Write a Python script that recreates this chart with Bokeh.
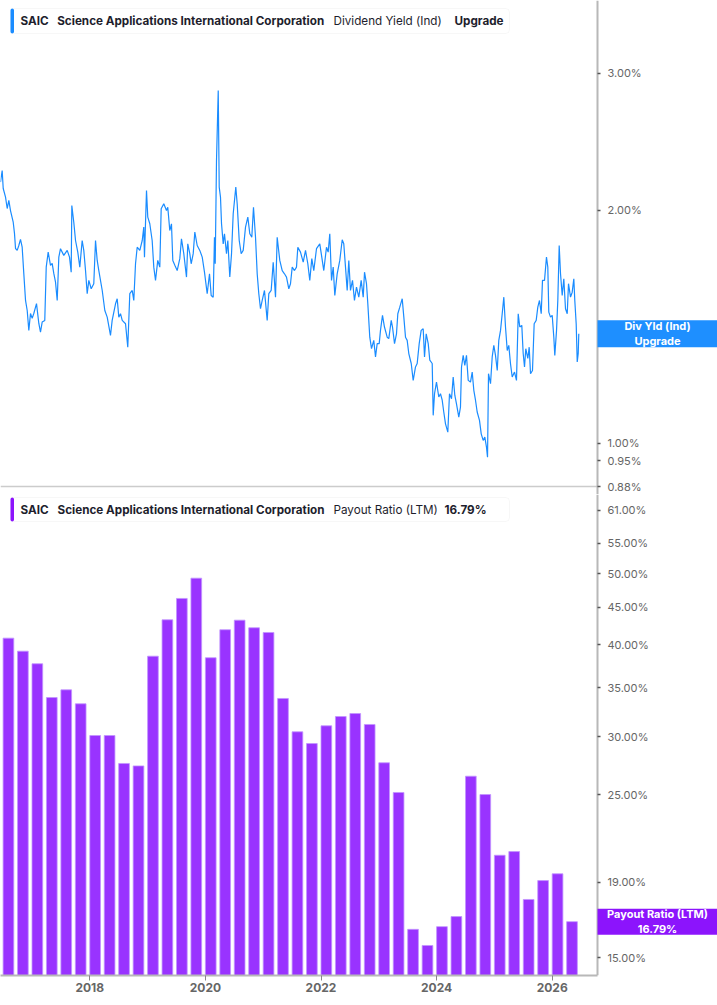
import math
from bokeh.plotting import figure
from bokeh.models import Range1d, FixedTicker, PrintfTickFormatter, Label, BoxAnnotation
from bokeh.layouts import column
from bokeh.embed import file_html
from bokeh.resources import INLINE

# ---------------- data ----------------
ticker_symbol = "SAIC"
company = "Science Applications International Corporation"

yield_dates = [
    2016.455, 2016.484, 2016.502, 2016.542, 2016.571, 2016.599, 2016.628, 2016.675, 2016.697, 2016.715,
    2016.744, 2016.772, 2016.801, 2016.830, 2016.858, 2016.888, 2016.917, 2016.945, 2016.974, 2017.003,
    2017.031, 2017.078, 2017.118, 2017.147, 2017.176, 2017.221, 2017.246, 2017.280, 2017.320, 2017.349,
    2017.377, 2017.407, 2017.436, 2017.464, 2017.493, 2017.550, 2017.609, 2017.649, 2017.678, 2017.689,
    2017.723, 2017.753, 2017.792, 2017.827, 2017.868, 2017.896, 2017.926, 2017.955, 2017.983, 2018.024,
    2018.069, 2018.099, 2018.128, 2018.156, 2018.215, 2018.260, 2018.301, 2018.358, 2018.387, 2018.445,
    2018.474, 2018.502, 2018.531, 2018.561, 2018.618, 2018.657, 2018.692, 2018.734, 2018.761, 2018.791,
    2018.820, 2018.865, 2018.907, 2018.934, 2018.946, 2018.981, 2019.003, 2019.038, 2019.079, 2019.107,
    2019.137, 2019.176, 2019.211, 2019.235, 2019.280, 2019.327, 2019.349, 2019.384, 2019.413, 2019.436,
    2019.471, 2019.512, 2019.557, 2019.586, 2019.626, 2019.673, 2019.695, 2019.730, 2019.754, 2019.789,
    2019.817, 2019.858, 2019.903, 2019.945, 2019.984, 2020.031, 2020.071, 2020.100, 2020.135, 2020.157,
    2020.170, 2020.192, 2020.222, 2020.239, 2020.261, 2020.279, 2020.308, 2020.330, 2020.365, 2020.388,
    2020.422, 2020.452, 2020.481, 2020.526, 2020.550, 2020.585, 2020.619, 2020.654, 2020.694, 2020.734,
    2020.768, 2020.803, 2020.832, 2020.867, 2020.896, 2020.924, 2020.953, 2020.983, 2021.022, 2021.069,
    2021.097, 2021.138, 2021.173, 2021.213, 2021.242, 2021.287, 2021.329, 2021.368, 2021.403, 2021.443,
    2021.472, 2021.502, 2021.541, 2021.576, 2021.599, 2021.645, 2021.692, 2021.732, 2021.772, 2021.806,
    2021.841, 2021.875, 2021.922, 2021.979, 2022.009, 2022.048, 2022.095, 2022.124, 2022.152, 2022.182,
    2022.211, 2022.239, 2022.280, 2022.325, 2022.367, 2022.394, 2022.424, 2022.453, 2022.481, 2022.510,
    2022.545, 2022.579, 2022.614, 2022.654, 2022.695, 2022.730, 2022.753, 2022.787, 2022.810, 2022.844,
    2022.874, 2022.913, 2022.943, 2022.972, 2023.007, 2023.029, 2023.064, 2023.098, 2023.145, 2023.173,
    2023.215, 2023.237, 2023.272, 2023.306, 2023.329, 2023.363, 2023.405, 2023.433, 2023.462, 2023.491,
    2023.519, 2023.561, 2023.595, 2023.635, 2023.664, 2023.699, 2023.733, 2023.768, 2023.791, 2023.820,
    2023.855, 2023.882, 2023.924, 2023.941, 2023.964, 2023.998, 2024.038, 2024.067, 2024.097, 2024.124,
    2024.154, 2024.194, 2024.223, 2024.258, 2024.287, 2024.315, 2024.344, 2024.384, 2024.413, 2024.431,
    2024.460, 2024.488, 2024.517, 2024.547, 2024.586, 2024.616, 2024.644, 2024.673, 2024.702, 2024.742,
    2024.772, 2024.806, 2024.834, 2024.863, 2024.881, 2024.898, 2024.933, 2024.962, 2024.990, 2025.019,
    2025.049, 2025.076, 2025.106, 2025.135, 2025.163, 2025.192, 2025.222, 2025.249, 2025.278, 2025.308,
    2025.348, 2025.382, 2025.412, 2025.439, 2025.474, 2025.498, 2025.521, 2025.543, 2025.578, 2025.602,
    2025.625, 2025.659, 2025.688, 2025.723, 2025.751, 2025.780, 2025.810, 2025.832, 2025.867, 2025.901,
    2025.924, 2025.941, 2025.971, 2026.000, 2026.028, 2026.045, 2026.075, 2026.097, 2026.121, 2026.144,
    2026.173, 2026.201, 2026.230, 2026.260, 2026.282, 2026.317, 2026.346, 2026.374, 2026.391, 2026.415,
    2026.433, 2026.450, 2026.460,
]

dividend_yield = [
    2.173, 2.249, 2.132, 2.078, 2.009, 2.058, 1.997, 1.929, 1.866, 1.784,
    1.774, 1.800, 1.833, 1.791, 1.657, 1.529, 1.484, 1.399, 1.471, 1.450,
    1.471, 1.515, 1.428, 1.392, 1.434, 1.441, 1.688, 1.765, 1.697, 1.707,
    1.657, 1.614, 1.529, 1.739, 1.783, 1.748, 1.774, 1.739, 1.663, 2.027,
    1.929, 1.827, 1.765, 1.688, 1.827, 1.774, 1.671, 1.560, 1.623, 1.583,
    1.607, 1.827, 1.722, 1.671, 1.575, 1.484, 1.455, 1.378, 1.441, 1.514,
    1.537, 1.455, 1.470, 1.441, 1.427, 1.331, 1.560, 1.575, 1.529, 1.705,
    1.791, 1.774, 1.827, 1.901, 1.739, 2.120, 1.958, 1.920, 1.827, 1.688,
    1.623, 1.722, 1.688, 2.008, 2.038, 1.997, 2.017, 1.882, 1.920, 1.722,
    1.697, 1.671, 1.731, 1.836, 1.757, 1.639, 1.809, 1.757, 1.705, 1.757,
    1.873, 1.800, 1.774, 1.739, 1.663, 1.560, 1.655, 1.552, 1.544, 1.845,
    1.705, 2.317, 2.852, 2.141, 2.078, 1.920, 1.809, 1.864, 1.757, 1.827,
    1.639, 1.757, 1.978, 2.141, 2.038, 1.827, 1.757, 1.774, 1.901, 1.958,
    1.864, 1.845, 2.017, 1.845, 1.655, 1.560, 1.492, 1.529, 1.575, 1.441,
    1.560, 1.575, 1.713, 1.544, 1.845, 1.722, 1.671, 1.655, 1.639, 1.583,
    1.607, 1.688, 1.671, 1.688, 1.791, 1.765, 1.713, 1.774, 1.705, 1.623,
    1.731, 1.671, 1.783, 1.809, 1.748, 1.671, 1.791, 1.765, 1.864, 1.623,
    1.688, 1.552, 1.655, 1.722, 1.831, 1.809, 1.688, 1.575, 1.722, 1.575,
    1.623, 1.529, 1.591, 1.544, 1.623, 1.544, 1.663, 1.607, 1.514, 1.371,
    1.325, 1.358, 1.293, 1.345, 1.345, 1.399, 1.463, 1.413, 1.371, 1.365,
    1.441, 1.413, 1.345, 1.385, 1.470, 1.499, 1.537, 1.455, 1.371, 1.358,
    1.306, 1.268, 1.206, 1.255, 1.268, 1.345, 1.399, 1.406, 1.293, 1.385,
    1.345, 1.281, 1.268, 1.087, 1.159, 1.200, 1.148, 1.159, 1.137, 1.098,
    1.060, 1.034, 1.159, 1.142, 1.218, 1.154, 1.125, 1.081, 1.114, 1.255,
    1.299, 1.261, 1.299, 1.206, 1.200, 1.236, 1.171, 1.137, 1.098, 1.071,
    1.029, 1.009, 1.019, 0.989, 0.960, 1.230, 1.194, 1.293, 1.338, 1.299,
    1.242, 1.358, 1.399, 1.470, 1.544, 1.413, 1.318, 1.338, 1.268, 1.218,
    1.236, 1.206, 1.470, 1.413, 1.420, 1.306, 1.255, 1.325, 1.287, 1.331,
    1.230, 1.242, 1.427, 1.441, 1.499, 1.529, 1.470, 1.623, 1.623, 1.739,
    1.688, 1.477, 1.455, 1.463, 1.371, 1.299, 1.399, 1.529, 1.800, 1.655,
    1.552, 1.631, 1.492, 1.470, 1.607, 1.544, 1.567, 1.631, 1.529, 1.427,
    1.274, 1.306, 1.385,
]

quarters = [f"{y}Q{q}" for y in range(2016, 2027) for q in (1, 2, 3, 4)][2:42]
payout_ratio = [
    40.87, 39.23, 37.71, 33.92, 34.75, 33.26, 30.11, 30.11, 27.58, 27.37,
    38.62, 43.29, 46.29, 49.33, 38.43, 41.96, 43.24, 42.22, 41.60, 33.82,
    30.46, 29.36, 31.04, 31.96, 32.26, 31.17, 27.64, 25.18, 16.39, 15.58,
    16.53, 17.06, 26.50, 25.02, 20.68, 20.92, 18.00, 19.10, 19.51, 16.79,
]

yield_ticks = [0.88, 0.95, 1.0, 2.0, 3.0]
payout_ticks = [15, 19, 25, 30, 35, 40, 45, 50, 55, 61]
year_ticks = [2018, 2020, 2022, 2024, 2026]

# ---------------- styling / layout constants ----------------
FONT = "Inter"
BLUE = "#1a8cff"
LABEL_BLUE = "#1e8fff"
PURPLE = "#9933ff"
LABEL_PURPLE = "#8c14fc"
AXIS_GRAY = "#b8b8b8"
TICK_TXT = "#666666"
DARK = "#1e1e2d"

PX_PER_YEAR = 57.8
X_START = 2016.455
AXIS_PX = 597                       # where the value axis sits
X_END = X_START + 717 / PX_PER_YEAR
AXIS_X = X_START + AXIS_PX / PX_PER_YEAR
X_RANGE = Range1d(X_START, X_END)


def style_right_axis(ax, ticks):
    ax.fixed_location = AXIS_X
    ax.ticker = FixedTicker(ticks=ticks)
    ax.formatter = PrintfTickFormatter(format="%.2f%%")
    ax.axis_line_color = AXIS_GRAY
    ax.axis_line_width = 2
    ax.major_tick_out = 3
    ax.major_tick_in = 0
    ax.major_tick_line_color = "#555555"
    ax.major_tick_line_width = 1.5
    ax.minor_tick_line_color = None
    ax.major_label_standoff = 7
    ax.major_label_text_font = FONT
    ax.major_label_text_font_size = "11px"
    ax.major_label_text_color = TICK_TXT


def add_legend(p, frame_h, top, bottom, pieces, accent):
    p.add_layout(BoxAnnotation(left=10, right=509, top=frame_h - top, bottom=frame_h - bottom,
                               left_units="screen", right_units="screen",
                               top_units="screen", bottom_units="screen",
                               fill_color="white", fill_alpha=1, line_color="#e6e6e6",
                               line_width=1, border_radius=4, level="overlay"))
    p.add_layout(BoxAnnotation(left=10, right=13.5, top=frame_h - top, bottom=frame_h - bottom,
                               left_units="screen", right_units="screen",
                               top_units="screen", bottom_units="screen",
                               fill_color=accent, fill_alpha=1, line_color=None,
                               border_radius=2, level="overlay"))
    for xpos, txt, bold in pieces:
        p.add_layout(Label(x=xpos, y=frame_h - (top + bottom) / 2, x_units="screen", y_units="screen",
                           text=txt, text_font=FONT, text_font_size="11.7px",
                           text_font_style="bold" if bold else "normal",
                           text_color=DARK, text_baseline="middle", text_align="left",
                           level="overlay"))


def add_value_tag(p, yval, half_px, px_per_unit, text, color):
    f = math.exp(half_px / px_per_unit)
    p.add_layout(BoxAnnotation(left=AXIS_X, right=X_END, top=yval * f, bottom=yval / f,
                               fill_color=color, fill_alpha=1, line_color=None, level="overlay"))
    p.add_layout(Label(x=(AXIS_PX + 717) / 2, y=yval, x_units="screen", y_units="data",
                       text=text, text_font=FONT, text_font_size="11px", text_font_style="bold",
                       text_color="white", text_align="center", text_baseline="middle",
                       text_line_height=1.05, level="overlay"))


# ---------------- top panel: dividend yield ----------------
H1 = 494
PX_LOG1 = 336.8                      # pixels per natural-log unit, top panel
y1_top = 3.726
y1_bottom = yield_ticks[0] * math.exp(-8 / PX_LOG1)   # 8px of room below the 0.88% line
p1 = figure(width=717, height=H1, x_range=X_RANGE, y_range=Range1d(y1_bottom, y1_top),
            y_axis_type="log", y_axis_location="right", output_backend="svg",
            toolbar_location=None, min_border_left=0, min_border_top=0,
            min_border_bottom=0, min_border_right=0)
p1.xaxis.visible = False
p1.grid.visible = False
p1.outline_line_color = None
style_right_axis(p1.yaxis[0], yield_ticks)
p1.segment(x0=[X_START], x1=[AXIS_X], y0=[yield_ticks[0]], y1=[yield_ticks[0]],
           line_color="#cccccc", line_width=1.5)
p1.line(yield_dates, dividend_yield, line_color=BLUE, line_width=1.2)

add_legend(p1, H1, 8, 33, [(20, ticker_symbol, True), (56.7, company, True),
                           (333, "Dividend Yield (Ind)", False), (454, "Upgrade", True)], BLUE)
add_value_tag(p1, dividend_yield[-1], 13.5, PX_LOG1, "Div Yld (Ind)\nUpgrade", LABEL_BLUE)

# ---------------- bottom panel: payout ratio ----------------
H2 = 1005 - H1
B2 = 30
p2 = figure(width=717, height=H2, x_range=X_RANGE, y_range=Range1d(14.18, 64.14),
            y_axis_type="log", y_axis_location="right", output_backend="svg",
            toolbar_location=None, min_border_left=0, min_border_top=0,
            min_border_bottom=B2, min_border_right=0)
p2.grid.visible = False
p2.outline_line_color = None
style_right_axis(p2.yaxis[0], payout_ticks)

xa = p2.xaxis[0]
xa.ticker = FixedTicker(ticks=year_ticks)
xa.formatter = PrintfTickFormatter(format="%d")
xa.bounds = (X_START, AXIS_X)
xa.axis_line_color = AXIS_GRAY
xa.axis_line_width = 2
xa.major_tick_out = 5
xa.major_tick_in = 0
xa.major_tick_line_color = "#888888"
xa.minor_tick_line_color = None
xa.major_label_standoff = 2
xa.major_label_text_font = FONT
xa.major_label_text_font_size = "12px"
xa.major_label_text_font_style = "bold"
xa.major_label_text_color = TICK_TXT

bar_w = 0.185
bar_x = [int(q[:4]) + (int(q[-1]) - 1) * 0.25 + bar_w / 2 for q in quarters]
p2.vbar(x=bar_x, top=payout_ratio, bottom=p2.y_range.start, width=bar_w,
        fill_color=PURPLE, line_color="#c194ff", line_width=0.8)

F2 = H2 - B2
add_legend(p2, F2, 3, 27, [(20, ticker_symbol, True), (57, company, True),
                           (333, "Payout Ratio (LTM)", False),
                           (444, f"{payout_ratio[-1]:.2f}%", True)], LABEL_PURPLE)
add_value_tag(p2, payout_ratio[-1], 13, 318.6, f"Payout Ratio (LTM)\n{payout_ratio[-1]:.2f}%", LABEL_PURPLE)

layout = column(p1, p2, spacing=0)
open("out.html", "w").write(file_html(layout, INLINE))
